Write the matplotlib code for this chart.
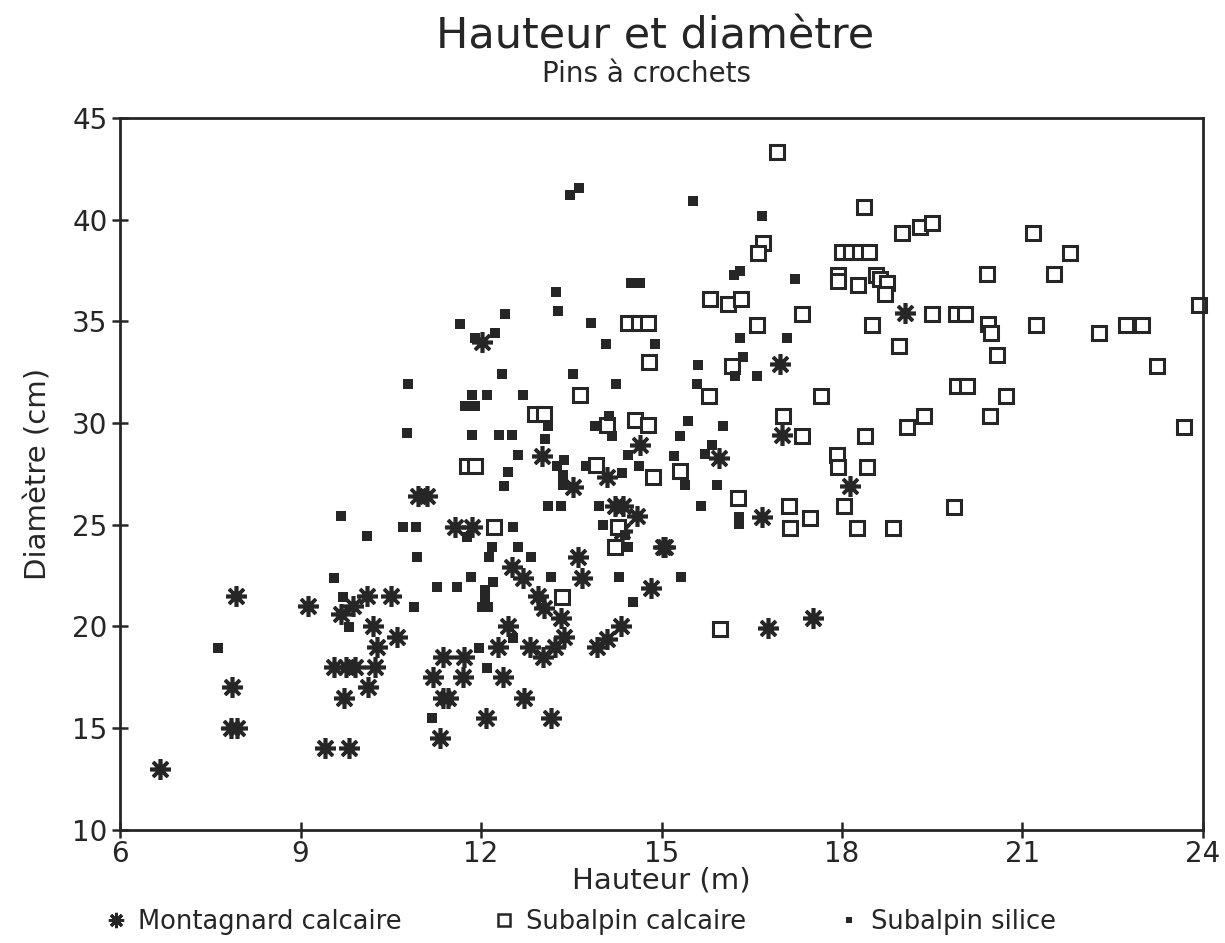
import matplotlib
matplotlib.use("Agg")
import matplotlib.pyplot as plt
from matplotlib.lines import Line2D

# Montagnard calcaire (asterisks)
mont_x = [6.66, 7.86, 7.85, 7.95, 7.93, 9.12, 9.4, 9.8, 9.55, 9.75, 9.9, 9.67, 9.88,
          10.1, 10.5, 10.2, 10.6, 10.27, 10.24, 10.12, 9.72, 11.2, 11.7, 12.37,
          11.37, 11.72, 11.37, 11.45, 12.71, 12.08, 13.16, 11.32, 12.28, 12.81,
          13.23, 13.93, 13.03, 12.45, 13.38, 14.33, 14.1, 12.95, 13.05, 13.33,
          12.51, 12.7, 13.68, 14.83, 13.61, 15.02, 11.57, 11.85, 10.95, 11.1,
          12.02, 13.01, 14.09, 14.64, 13.53, 14.23, 14.36, 14.59, 14.35, 15.96,
          18.13, 16.67, 15.06, 17.52, 16.77, 19.05, 16.97, 17.0]
mont_y = [13.0, 17.0, 15.0, 15.0, 21.5, 21.0, 14.0, 14.0, 18.0, 18.0, 18.0, 20.6, 21.0,
          21.5, 21.5, 20.0, 19.5, 19.0, 18.0, 17.0, 16.5, 17.5, 17.5, 17.5,
          18.5, 18.5, 16.5, 16.5, 16.5, 15.5, 15.5, 14.5, 19.0, 19.0,
          19.0, 19.0, 18.5, 20.0, 19.5, 20.0, 19.4, 21.5, 20.9, 20.4,
          22.9, 22.4, 22.4, 21.9, 23.4, 23.9, 24.9, 24.9, 26.4, 26.4,
          34.0, 28.4, 27.35, 28.9, 26.85, 25.9, 25.9, 25.43, 24.7, 28.3,
          26.9, 25.4, 23.9, 20.4, 19.9, 35.4, 32.9, 29.4]

# Subalpin calcaire (open squares)
subcal_x = [16.92, 18.36, 18.99, 19.29, 19.5, 16.69, 16.6, 18.0, 18.15, 18.3, 18.45,
            17.93, 17.93, 18.27, 18.56, 18.63, 18.75, 18.71, 19.5, 15.8, 16.1, 16.32,
            17.33, 16.58, 18.5, 18.95, 16.17, 15.79, 17.65, 17.02, 17.33, 18.38,
            19.08, 19.36, 17.92, 17.93, 18.42, 15.3, 16.27, 17.12, 17.47, 17.14,
            18.03, 18.25, 18.85, 15.97, 21.17, 21.79, 20.41, 21.52, 23.93, 19.9,
            20.05, 20.43, 20.47, 21.22, 22.27, 22.72, 22.99, 20.58, 23.23, 19.91,
            20.08, 20.72, 20.46, 23.68, 19.86, 14.45, 14.62, 14.78, 14.8, 13.65,
            12.9, 13.05, 14.09, 14.56, 14.77, 11.76, 11.9, 13.91, 14.86, 12.22,
            14.28, 14.23, 13.35]
subcal_y = [43.3, 40.6, 39.35, 39.64, 39.84, 38.85, 38.36, 38.4, 38.4, 38.4, 38.4,
            37.3, 37.0, 36.8, 37.3, 37.1, 36.9, 36.35, 35.35, 36.1, 35.85, 36.1,
            35.35, 34.8, 34.8, 33.8, 32.8, 31.33, 31.33, 30.35, 29.37, 29.37,
            29.8, 30.35, 28.43, 27.84, 27.84, 27.65, 26.3, 25.9, 25.33, 24.85,
            25.9, 24.85, 24.85, 19.88, 39.35, 38.36, 37.33, 37.33, 35.8, 35.35,
            35.35, 34.87, 34.4, 34.8, 34.4, 34.8, 34.8, 33.35, 32.8, 31.82,
            31.82, 31.33, 30.35, 29.8, 25.87, 34.9, 34.9, 34.9, 33.0, 31.4,
            30.45, 30.45, 29.9, 30.15, 29.9, 27.9, 27.9, 27.94, 27.35, 24.9,
            24.9, 23.9, 21.45]

# Subalpin silice (small filled squares)
subsil_x = [9.67, 10.7, 10.92, 10.1, 10.93, 9.56, 9.7, 10.89, 9.8, 7.63, 10.79, 10.77,
            12.4, 13.28, 11.65, 11.9, 12.23, 13.83, 14.08, 14.9, 12.35, 13.53, 14.24,
            11.85, 12.1, 12.7, 11.73, 11.9, 11.85, 12.3, 12.52, 13.06, 13.11, 14.13,
            13.9, 14.18, 15.3, 12.61, 13.38, 13.26, 13.36, 13.36, 13.74, 14.44, 14.63,
            14.34, 12.45, 12.38, 13.11, 13.33, 13.96, 14.03, 12.53, 11.77, 12.18,
            12.61, 12.13, 12.83, 14.4, 14.44, 15.2, 11.83, 12.2, 11.27, 11.6, 12.07,
            12.07, 12.02, 12.12, 13.16, 14.29, 14.53, 12.53, 11.97, 12.1, 11.18,
            13.63, 13.48, 13.25, 14.5, 14.65, 15.52, 16.67, 16.2, 16.3, 17.22, 16.3,
            17.08, 16.35, 15.6, 16.22, 16.58, 15.59, 15.44, 16.02, 15.84, 15.73,
            15.39, 15.92, 15.66, 16.29, 16.29, 15.32]
subsil_y = [25.43, 24.9, 24.9, 24.45, 23.4, 22.4, 21.45, 20.95, 19.98, 18.94, 31.9, 29.5,
            35.36, 35.5, 34.87, 34.2, 34.4, 34.9, 33.9, 33.9, 32.4, 32.4, 31.9,
            31.4, 31.4, 31.4, 30.85, 30.85, 29.4, 29.4, 29.4, 29.2, 29.85, 30.35,
            29.85, 29.37, 29.37, 28.43, 28.2, 27.9, 27.45, 26.96, 27.9, 28.43, 27.9,
            27.55, 27.6, 26.9, 25.9, 25.9, 25.9, 25.0, 24.9, 24.4, 23.9,
            23.9, 23.4, 23.4, 24.5, 23.9, 28.4, 22.43, 22.2, 21.95, 21.95, 21.8,
            21.45, 20.95, 20.95, 22.43, 22.43, 21.2, 19.43, 18.94, 17.96, 15.5,
            41.55, 41.2, 36.45, 36.9, 36.9, 40.9, 40.2, 37.3, 37.45, 37.1, 34.2,
            34.2, 33.25, 32.85, 32.3, 32.3, 31.9, 30.1, 29.85, 28.9, 28.5,
            26.95, 26.95, 25.9, 25.4, 25.05, 22.43]

x_ticks = [6, 9, 12, 15, 18, 21, 24]
y_ticks = [10, 15, 20, 25, 30, 35, 40, 45]

ink = "#262626"
plt.rcParams["font.family"] = "DejaVu Sans"

fig = plt.figure(figsize=(12.25, 9.43), dpi=100)
ax = fig.add_axes([0.098, 0.12, 0.884, 0.755])

star = (8, 2, 0)
ax.plot(mont_x, mont_y, ls="none", marker=star, ms=15, mew=2.6, color=ink, clip_on=False)
ax.plot(subcal_x, subcal_y, ls="none", marker="s", ms=9.5, mew=2.2, mfc="white", mec=ink, clip_on=False)
ax.plot(subsil_x, subsil_y, ls="none", marker="s", ms=6.5, mew=0, color=ink, clip_on=False)

ax.set_xlim(6, 24)
ax.set_ylim(10, 45)
ax.set_xticks(x_ticks)
ax.set_yticks(y_ticks)
ax.tick_params(direction="inout", length=12, width=1.8, labelsize=20, colors=ink)
ax.tick_params(axis="x", pad=1)
ax.tick_params(axis="y", pad=3)
for s in ax.spines.values():
    s.set_linewidth(2)
    s.set_color(ink)

ax.set_xlabel("Hauteur (m)", fontsize=21, color=ink, labelpad=-1)
ax.set_ylabel("Diamètre (cm)", fontsize=21, color=ink, labelpad=14)

fig.text(0.535, 0.961, "Hauteur et diamètre", ha="center", va="center", fontsize=31, color=ink)
fig.text(0.528, 0.922, "Pins à crochets", ha="center", va="center", fontsize=20, color=ink)

handles = [
    Line2D([], [], ls="none", marker=star, ms=11, mew=2.2, color=ink),
    Line2D([], [], ls="none", marker="s", ms=8, mew=1.8, mfc="white", mec=ink),
    Line2D([], [], ls="none", marker="s", ms=5, mew=0, color=ink),
]
labels = ["Montagnard calcaire", "Subalpin calcaire", "Subalpin silice"]
fig.legend(handles, labels, loc="lower center", bbox_to_anchor=(0.474, -0.016), ncol=3,
           frameon=False, fontsize=18.5, handlelength=0.8, columnspacing=3.6,
           handletextpad=0.45, labelcolor=ink)

fig.savefig("out.png", dpi=100, facecolor="white")
